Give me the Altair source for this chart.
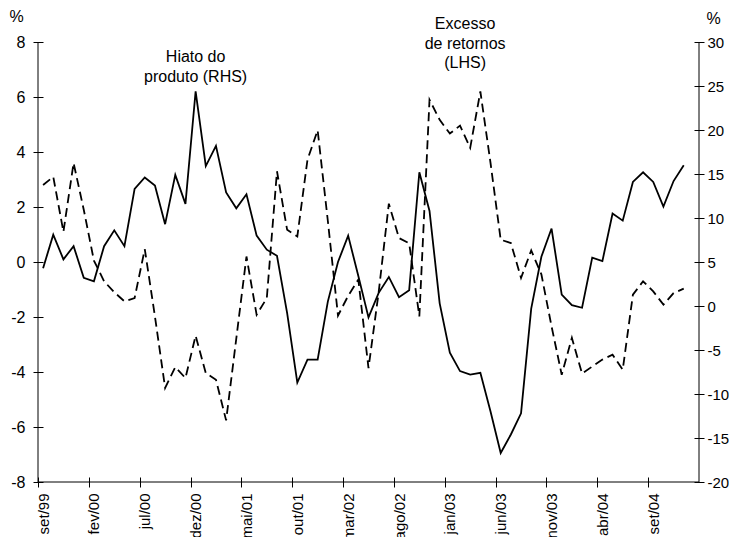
import altair as alt
import pandas as pd

# ---------------- data ----------------
meses = [
    "set/99", "out/99", "nov/99", "dez/99",
    "jan/00", "fev/00", "mar/00", "abr/00", "mai/00", "jun/00", "jul/00", "ago/00", "set/00", "out/00", "nov/00", "dez/00",
    "jan/01", "fev/01", "mar/01", "abr/01", "mai/01", "jun/01", "jul/01", "ago/01", "set/01", "out/01", "nov/01", "dez/01",
    "jan/02", "fev/02", "mar/02", "abr/02", "mai/02", "jun/02", "jul/02", "ago/02", "set/02", "out/02", "nov/02", "dez/02",
    "jan/03", "fev/03", "mar/03", "abr/03", "mai/03", "jun/03", "jul/03", "ago/03", "set/03", "out/03", "nov/03", "dez/03",
    "jan/04", "fev/04", "mar/04", "abr/04", "mai/04", "jun/04", "jul/04", "ago/04", "set/04", "out/04", "nov/04", "dez/04",
    "jan/05",
]

# Excesso de retornos (LHS, %) - dashed
excesso = [
    2.8, 3.1, 1.1, 3.6, 1.9, 0.05, -0.7, -1.1, -1.43, -1.31,
    0.47, -1.98, -4.58, -3.82, -4.22, -2.68, -4.04, -4.28, -5.76, -2.78,
    0.2, -1.92, -1.31, 3.3, 1.17, 0.93, 3.72, 4.79, 1.5, -1.95,
    -1.23, -0.64, -3.86, -1.1, 2.12, 0.87, 0.68, -1.98, 5.9, 5.17,
    4.67, 4.96, 4.15, 6.2, 3.6, 0.81, 0.69, -0.58, 0.42, -0.45,
    -2.34, -4.1, -2.76, -4.06, -3.8, -3.55, -3.37, -3.92, -1.19, -0.7,
    -1.07, -1.55, -1.13, -0.97,
]

# Hiato do produto (RHS, %) - solid
hiato = [
    4.3, 8.1, 5.3, 6.8, 3.2, 2.8, 6.8, 8.6, 6.8, 13.3,
    14.6, 13.7, 9.3, 14.9, 11.6, 24.4, 15.9, 18.2, 12.9, 11.1,
    12.7, 8.0, 6.4, 5.7, -0.8, -8.7, -6.1, -6.1, 0.5, 5.0,
    8.0, 3.4, -1.3, 1.5, 3.3, 1.0, 1.8, 15.2, 10.8, 0.3,
    -5.3, -7.4, -7.8, -7.6, -12.0, -16.7, -14.6, -12.2, -0.3, 5.6,
    8.8, 1.3, 0.1, -0.2, 5.5, 5.1, 10.5, 9.7, 14.1, 15.2,
    14.1, 11.3, 14.2, 16.0,
]

rotulos_x = meses[0:61:5]
ticks_esq = [-8, -6, -4, -2, 0, 2, 4, 6, 8]
ticks_dir = [-20, -15, -10, -5, 0, 5, 10, 15, 20, 25, 30]

ann_hiato_txt = ["Hiato do", "produto (RHS)"]
ann_hiato_y = [7.44, 6.74]
ann_exc_txt = ["Excesso", "de retornos", "(LHS)"]
ann_exc_y = [8.65, 7.92, 7.23]

# ---------------- layout constants ----------------
W, H = 661, 440
STEP = W / len(meses)
FONT = "Liberation Sans"
FS = 16

df = pd.DataFrame({
    "mes": meses[:len(excesso)],
    "ordem": list(range(len(excesso))),
    "excesso": excesso,
    "hiato": hiato,
})

x_enc = alt.X(
    "mes:O",
    scale=alt.Scale(type="point", domain=meses, padding=0.5),
    axis=alt.Axis(
        values=rotulos_x, title=None, labelAngle=270, tickSize=10, offset=-5,
        domain=False, tickOffset=-STEP / 2, labelOffset=STEP / 2, labelPadding=6,
        labelOverlap=False, grid=False, labelFontSize=15,
    ),
)

esq_scale = alt.Scale(domain=[-8, 8], nice=False, zero=False)
dir_scale = alt.Scale(domain=[-20, 30], nice=False, zero=False)

dashed = alt.Chart(df).mark_line(color="black", strokeWidth=1.8, strokeDash=[9, 5]).encode(
    x=x_enc,
    y=alt.Y(
        "excesso:Q", scale=esq_scale,
        axis=alt.Axis(
            orient="left", values=ticks_esq, title="%", titleAngle=0,
            titleX=-27, titleY=-26, titleAlign="center", titleBaseline="middle",
            tickSize=10, offset=-5, domain=False, labelPadding=8, grid=False,
            labelExpr="'' + datum.value",
        ),
    ),
    order=alt.Order("ordem:Q"),
)

ann1 = alt.Chart(pd.DataFrame({"mes": ["dez/00"] * 2, "y": ann_hiato_y, "t": ann_hiato_txt})).mark_text(
    font=FONT, fontSize=FS, align="center", baseline="middle", color="black"
).encode(x=alt.X("mes:O"), y=alt.Y("y:Q", scale=esq_scale), text="t:N")

ann2 = alt.Chart(pd.DataFrame({"mes": ["fev/03"] * 3, "y": ann_exc_y, "t": ann_exc_txt})).mark_text(
    font=FONT, fontSize=FS, align="center", baseline="middle", color="black", dx=STEP / 2
).encode(x=alt.X("mes:O"), y=alt.Y("y:Q", scale=esq_scale), text="t:N")

esquerda = alt.layer(dashed, ann1, ann2)

solid = alt.Chart(df).mark_line(color="black", strokeWidth=1.8).encode(
    x=x_enc,
    y=alt.Y(
        "hiato:Q", scale=dir_scale,
        axis=alt.Axis(
            orient="right", values=ticks_dir, title="%", titleAngle=0,
            titleX=19, titleY=-24, titleAlign="center", titleBaseline="middle",
            tickSize=10, offset=-5, domain=False, labelPadding=3, grid=False,
            labelFontSize=15, labelExpr="'' + datum.value",
        ),
    ),
    order=alt.Order("ordem:Q"),
)

one = pd.DataFrame({"a": [0]})
rule_l = alt.Chart(one).mark_rule(color="black", strokeWidth=1).encode(
    x=alt.value(0), y=alt.value(0), y2=alt.value(H))
rule_r = alt.Chart(one).mark_rule(color="black", strokeWidth=1).encode(
    x=alt.value(W), y=alt.value(0), y2=alt.value(H))
rule_b = alt.Chart(one).mark_rule(color="black", strokeWidth=1).encode(
    y=alt.value(H), x=alt.value(0), x2=alt.value(W))

chart = alt.layer(esquerda, solid, rule_l, rule_r, rule_b).resolve_scale(
    y="independent"
).properties(
    width=W, height=H,
    autosize=alt.AutoSizeParams(type="none"),
    padding={"left": 30, "top": 34, "right": 30, "bottom": 55},
).configure_axis(
    labelFont=FONT, labelFontSize=FS, labelColor="black",
    titleFont=FONT, titleFontSize=FS, titleFontWeight="normal", titleColor="black",
    tickColor="black", tickWidth=1,
).configure_view(stroke=None)

chart.save("out.html", embed_options={"renderer": "svg", "actions": False})
